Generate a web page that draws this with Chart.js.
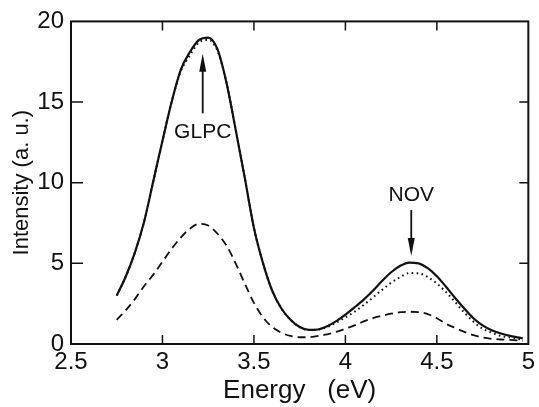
<!DOCTYPE html>
<html>
<head>
<meta charset="utf-8">
<script src="https://cdn.jsdelivr.net/npm/chart.js@4/dist/chart.umd.min.js"></script>
<style>
  html, body { margin: 0; padding: 0; background: #fff; }
  canvas { display: block; }
</style>
</head>
<body>
<canvas id="spectrumChart" width="539" height="407"></canvas>
<script>
// photon energy (eV), shared by all three curves
const energy = [
  2.75, 2.80, 2.85, 2.90, 2.95, 3.00, 3.05, 3.10, 3.15, 3.20,
  3.25, 3.30, 3.35, 3.40, 3.45, 3.50, 3.55, 3.60, 3.65, 3.70,
  3.75, 3.80, 3.85, 3.90, 3.95, 4.00, 4.05, 4.10, 4.15, 4.20,
  4.25, 4.30, 4.35, 4.40, 4.45, 4.50, 4.55, 4.60, 4.65, 4.70,
  4.75, 4.80, 4.85, 4.90, 4.95, 4.97
];

// solid curve
const solidCurve = [
  3.0, 4.2, 5.7, 7.6, 10.1, 12.6, 15.0, 17.0, 18.1, 18.85,
  19.0, 18.3, 16.2, 13.3, 10.3, 7.2, 5.0, 3.3, 2.2, 1.5,
  1.05, 0.87, 0.9, 1.1, 1.42, 1.82, 2.27, 2.75, 3.3, 3.9,
  4.45, 4.85, 5.05, 5.0, 4.7, 4.2, 3.55, 2.85, 2.2, 1.6,
  1.15, 0.85, 0.65, 0.5, 0.4, 0.35
];

// dotted curve
const dottedCurve = [
  3.0, 4.2, 5.7, 7.6, 10.1, 12.6, 15.0, 16.9, 17.9, 18.7,
  18.85, 18.2, 16.2, 13.3, 10.3, 7.2, 5.0, 3.3, 2.2, 1.5,
  1.05, 0.87, 0.9, 1.05, 1.33, 1.65, 2.0, 2.42, 2.88, 3.35,
  3.8, 4.15, 4.4, 4.38, 4.15, 3.75, 3.22, 2.6, 1.95, 1.38,
  0.95, 0.7, 0.5, 0.4, 0.3, 0.28
];

// dashed curve
const dashedCurve = [
  1.5, 2.1, 2.8, 3.6, 4.3, 5.1, 5.9, 6.6, 7.15, 7.45,
  7.35, 6.85, 6.1, 5.0, 3.75, 2.55, 1.65, 1.05, 0.7, 0.5,
  0.42, 0.42, 0.5, 0.6, 0.75, 0.95, 1.15, 1.4, 1.6, 1.75,
  1.88, 1.97, 2.0, 1.98, 1.85, 1.6, 1.25, 1.0, 0.75, 0.55,
  0.4, 0.32, 0.28, 0.25, 0.22, 0.2
];

const xTicks = [2.5, 3, 3.5, 4, 4.5, 5];
const yTicks = [0, 5, 10, 15, 20];

// peak labels: text, energy, label height, arrow from, arrow to
const peakLabels = [
  { text: "GLPC", x: 3.22, textY: 13.1, from: 14.3, to: 18.0 },
  { text: "NOV", x: 4.36, textY: 9.2, from: 8.3, to: 5.45 }
];

const ink = "#111";

const fontFamily = "'Liberation Sans', Arial, sans-serif";
const tickFont = { family: fontFamily, size: 24 };

function toPoints(values) {
  return energy.map((e, i) => ({ x: e, y: values[i] }));
}

// frame, inward ticks on all four sides, peak arrows
const framePlugin = {
  id: "frame",
  afterDraw(chart) {
    const ctx = chart.ctx;
    const area = chart.chartArea;
    const xs = chart.scales.x;
    const ys = chart.scales.y;
    ctx.save();
    ctx.strokeStyle = ink;
    ctx.lineWidth = 2;
    ctx.strokeRect(area.left, area.top, area.right - area.left, area.bottom - area.top);

    ctx.lineWidth = 1.5;
    ctx.beginPath();
    xTicks.slice(1, -1).forEach(v => {
      const px = xs.getPixelForValue(v);
      ctx.moveTo(px, area.bottom);
      ctx.lineTo(px, area.bottom - 9);
      ctx.moveTo(px, area.top);
      ctx.lineTo(px, area.top + 9);
    });
    yTicks.slice(1, -1).forEach(v => {
      const py = ys.getPixelForValue(v);
      ctx.moveTo(area.left, py);
      ctx.lineTo(area.left + 12, py);
      ctx.moveTo(area.right, py);
      ctx.lineTo(area.right - 9, py);
    });
    ctx.stroke();

    ctx.fillStyle = ink;
    ctx.font = "21px " + fontFamily;
    ctx.textAlign = "center";
    ctx.textBaseline = "middle";
    peakLabels.forEach(p => {
      const px = xs.getPixelForValue(p.x);
      ctx.fillText(p.text, px, ys.getPixelForValue(p.textY));
      const y0 = ys.getPixelForValue(p.from);
      const y1 = ys.getPixelForValue(p.to);
      const dir = y1 < y0 ? 1 : -1;
      ctx.lineWidth = 1.8;
      ctx.beginPath();
      ctx.moveTo(px, y0);
      ctx.lineTo(px, y1 + dir * 10);
      ctx.stroke();
      ctx.beginPath();
      ctx.moveTo(px, y1);
      ctx.lineTo(px - 3.5, y1 + dir * 18);
      ctx.lineTo(px + 3.5, y1 + dir * 18);
      ctx.closePath();
      ctx.fill();
    });
    ctx.restore();
  }
};

new Chart(
  document.getElementById("spectrumChart").getContext("2d"),
  {
    type: "line",
    data: {
      datasets: [
        {
          label: "solid",
          data: toPoints(solidCurve),
          borderColor: ink,
          borderWidth: 2.2,
          pointRadius: 0,
          cubicInterpolationMode: "monotone"
        },
        {
          label: "dotted",
          data: toPoints(dottedCurve),
          borderColor: ink,
          borderWidth: 2,
          borderDash: [1.6, 3.4],
          pointRadius: 0,
          cubicInterpolationMode: "monotone"
        },
        {
          label: "dashed",
          data: toPoints(dashedCurve),
          borderColor: ink,
          borderWidth: 1.8,
          borderDash: [8, 5],
          pointRadius: 0,
          cubicInterpolationMode: "monotone"
        }
      ]
    },
    options: {
      responsive: false,
      animation: false,
      layout: { padding: { top: 19, right: 8, left: 0, bottom: 0 } },
      plugins: {
        legend: { display: false },
        tooltip: { enabled: false }
      },
      scales: {
        x: {
          type: "linear",
          min: 2.5,
          max: 5,
          afterBuildTicks: s => { s.ticks = xTicks.map(v => ({ value: v })); },
          afterFit: s => { s.height = 63; },
          grid: { display: false, drawTicks: false },
          border: { display: false },
          ticks: {
            color: ink,
            font: tickFont,
            padding: 4,
            maxRotation: 0,
            autoSkip: false,
            callback: v => String(v)
          },
          title: {
            display: true,
            text: "Energy   (eV)",
            color: ink,
            font: { family: fontFamily, size: 26 },
            padding: { top: 0, bottom: 1 }
          }
        },
        y: {
          min: 0,
          max: 20,
          afterBuildTicks: s => { s.ticks = yTicks.map(v => ({ value: v })); },
          afterFit: s => { s.width = 71; },
          grid: { display: false, drawTicks: false },
          border: { display: false },
          ticks: {
            color: ink,
            font: tickFont,
            padding: 7,
            autoSkip: false,
            callback: v => String(v)
          },
          title: {
            display: true,
            text: "Intensity (a. u.)",
            color: ink,
            font: { family: fontFamily, size: 22 },
            padding: { top: 9, bottom: 0 }
          }
        }
      }
    },
    plugins: [framePlugin]
  }
);
</script>
</body>
</html>
